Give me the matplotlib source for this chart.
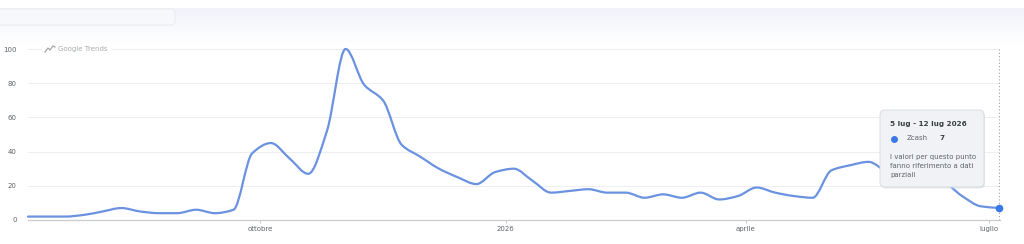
import numpy as np
import matplotlib
matplotlib.use("Agg")
import matplotlib.pyplot as plt
import matplotlib.dates as mdates
from matplotlib.path import Path
from matplotlib.patches import PathPatch, FancyBboxPatch, Rectangle
import datetime as dt

# weekly interest values (Google Trends, Zcash), week starting 6 Jul 2025
start = dt.date(2025, 7, 6)
values = [2, 2, 2, 3, 5, 7, 5, 4, 4, 6, 4, 6, 39, 45, 36, 27, 52, 100, 79, 70,
          44, 37, 30, 25, 21, 28, 30, 23, 16, 17, 18, 16, 16, 13, 15, 13, 16, 12,
          14, 19, 16, 14, 13, 29, 32, 34, 28, 25, 24, 22, 14, 8, 7]
weeks = [start + dt.timedelta(days=7 * i) for i in range(len(values))]
tick_dates = [dt.date(2025, 10, 1), dt.date(2026, 1, 1), dt.date(2026, 4, 1), dt.date(2026, 7, 1)]
tick_labels = ['ottobre', '2026', 'aprile', 'luglio']
y_ticks = [0, 20, 40, 60, 80, 100]

line_color = '#6a92e0'
W, H = 1024, 244
fig = plt.figure(figsize=(W / 100, H / 100), dpi=100)
fig.patch.set_facecolor('white')

ax = fig.add_axes([28 / W, (H - 220) / H, 972 / W, 171 / H])
xs = mdates.date2num(weeks)
ys = np.array(values, dtype=float)

# monotone cubic (like d3 curveMonotoneX) as bezier segments
n = len(xs)
h = np.diff(xs)
d = np.diff(ys) / h
m = np.zeros(n)
m[0], m[-1] = d[0], d[-1]
for i in range(1, n - 1):
    if d[i - 1] * d[i] > 0:
        m[i] = 2 / (1 / d[i - 1] + 1 / d[i])
verts = [(xs[0], ys[0])]
codes = [Path.MOVETO]
for i in range(n - 1):
    verts += [(xs[i] + h[i] / 3, ys[i] + m[i] * h[i] / 3),
              (xs[i + 1] - h[i] / 3, ys[i + 1] - m[i + 1] * h[i] / 3),
              (xs[i + 1], ys[i + 1])]
    codes += [Path.CURVE4] * 3
ax.add_patch(PathPatch(Path(verts, codes), fill=False, edgecolor=line_color,
                       lw=1.6, capstyle='round', joinstyle='round', zorder=3, clip_on=False))

ax.plot([xs[-1]], [ys[-1]], 'o', color='#3b78e7', ms=4.5, zorder=5, clip_on=False)
ax.axvline(xs[-1], color='#9aa0a6', lw=0.8, ls=(0, (1, 2)), zorder=2)

ax.set_xlim(xs[0], xs[-1] + 0.2)
ax.set_ylim(0, 100)
ax.set_yticks(y_ticks)
ax.set_yticklabels([str(v) for v in y_ticks])
ax.set_xticks(mdates.date2num(tick_dates))
ax.set_xticklabels(tick_labels)
ax.tick_params(axis='y', length=0, pad=8, labelsize=5, labelcolor='#5f6368')
ax.tick_params(axis='x', length=2, width=0.6, color='#c0c4c8', pad=2.5, labelsize=5, labelcolor='#5f6368')
ax.grid(axis='y', color='#eceef1', lw=0.7)
for s in ['top', 'right', 'left']:
    ax.spines[s].set_visible(False)
ax.spines['bottom'].set_color('#c8ccd0')
ax.spines['bottom'].set_linewidth(0.9)
ax.set_facecolor('none')

# overlay in pixel coordinates for decorations
ov = fig.add_axes([0, 0, 1, 1])
ov.set_xlim(0, W)
ov.set_ylim(H, 0)
ov.axis('off')
ov.set_facecolor('none')

# header band, fading to white
grad = np.linspace(0, 1, 64)[:, None]
top_c = np.array([0.945, 0.953, 0.980])
band = top_c[None, None, :] * (1 - grad[..., None]) + grad[..., None]
ov.imshow(np.repeat(band, 2, axis=1), extent=[0, W, 44, 8], aspect='auto', zorder=0, interpolation='bilinear')
ov.add_patch(FancyBboxPatch((-10, 9), 185, 16, boxstyle='round,pad=0,rounding_size=4',
                            fc='#f7f8fb', ec='#e6e8ec', lw=0.6, zorder=1))
ov.set_xlim(0, W)
ov.set_ylim(H, 0)

# Google Trends watermark
ov.add_patch(Rectangle((42, 44), 70, 10, color='white', lw=0, zorder=2))
ov.plot([45, 48, 50, 53, 55], [52, 48, 50, 46, 47], color='#a0a4a8', lw=0.9, zorder=3)
ov.text(58, 49, 'Google Trends', fontsize=5, color='#a8acb0', va='center', ha='left', zorder=3)

# tooltip
ov.add_patch(FancyBboxPatch((881, 111.5), 104, 77, boxstyle='round,pad=0,rounding_size=5',
                            fc='#d8dbe0', ec='none', lw=0, zorder=5, alpha=0.6))
ov.add_patch(FancyBboxPatch((880, 110), 104, 77, boxstyle='round,pad=0,rounding_size=5',
                            fc='#f0f2f6', ec='#d5d8dc', lw=0.6, zorder=6))
ov.text(890, 124, '5 lug - 12 lug 2026', fontsize=5.2, fontweight='bold', color='#3c4043',
        va='center', ha='left', zorder=7)
ov.plot([894], [138.5], 'o', color='#3b78e7', ms=4, zorder=7)
ov.text(907, 138.5, 'Zcash', fontsize=5, color='#5f6368', va='center', ha='left', zorder=7)
ov.text(939, 138.5, '7', fontsize=5.2, fontweight='bold', color='#3c4043', va='center', ha='left', zorder=7)
for j, line in enumerate(['I valori per questo punto', 'fanno riferimento a dati', 'parziali']):
    ov.text(890, 157.5 + j * 9, line, fontsize=5, color='#5f6368', va='center', ha='left', zorder=7)

fig.savefig('out.png', dpi=100, facecolor='white')
